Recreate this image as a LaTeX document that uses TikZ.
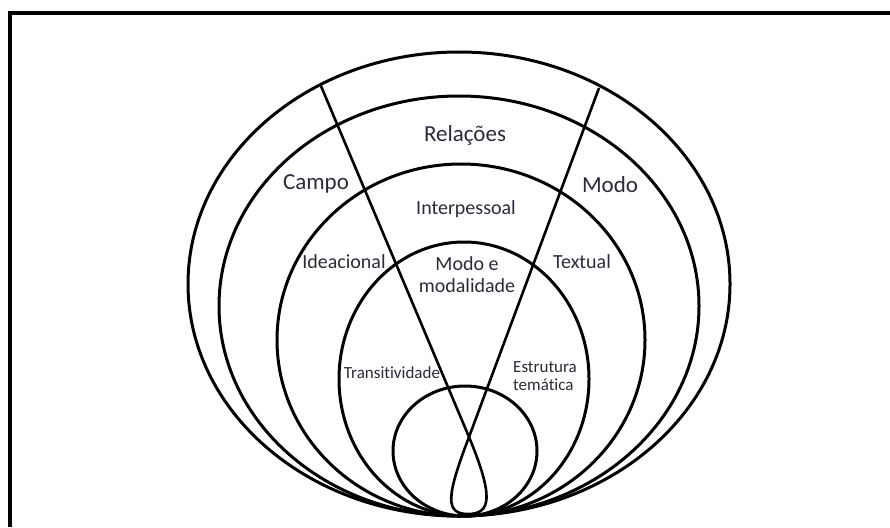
\documentclass[tikz,border=0pt]{standalone}
\usepackage{fontspec}
\setmainfont{Carlito}[Ligatures=NoCommon]
\definecolor{txt}{rgb}{0.17,0.17,0.22}
\tikzset{
  ring/.style={line width=3pt, draw=black},
  spoke/.style={line width=2.6pt, draw=black, line join=round},
  frameline/.style={line width=4pt, draw=black},
  bigl/.style={text=txt, font=\fontsize{23}{26}\selectfont, inner sep=0pt},
  midl/.style={text=txt, font=\fontsize{20}{22}\selectfont, inner sep=0pt},
  smalll/.style={text=txt, font=\fontsize{17}{18.5}\selectfont, inner sep=0pt},
}
\begin{document}
\begin{tikzpicture}[x=1pt, y=-1pt]
\useasboundingbox (0,0) rectangle (890,527);
% frame (top and left edges visible)
\coordinate (ftl) at (10,13);
\coordinate (ftr) at (890,13);
\coordinate (fbl) at (10,527);
\draw[frameline] (ftr) -- (ftl) -- (fbl);
% nested ellipses tangent at bottom
\draw[ring] (459,284) ellipse [x radius=271, y radius=232];
\draw[ring] (459,306) ellipse [x radius=240, y radius=210];
\draw[ring] (461,340) ellipse [x radius=184, y radius=176];
\draw[ring] (464,379) ellipse [x radius=125, y radius=137];
\draw[ring] (465,451) ellipse [x radius=72, y radius=65];
% crossing lines with loop at bottom
\coordinate (lt) at (321,86);
\coordinate (rt) at (599,88);
\coordinate (cx) at (469,437);
\coordinate (lb) at (468,514);
\draw[spoke] (lt) -- (cx) .. controls (494,497) and (491,514) .. (lb)
  .. controls (445,514) and (446,497) .. (cx) -- (rt);
% labels
\node[bigl] (rel) at (465,135) {Relações};
\node[bigl] (campo) at (316,184) {Campo};
\node[bigl] (modo) at (610,185) {Modo};
\node[midl] (inter) at (466,209) {Interpessoal};
\node[midl] (idea) at (344,262) {Ideacional};
\node[midl] (text) at (582,262) {Textual};
\node[midl, align=center] (mm) at (467,275) {Modo e\\modalidade};
\node[smalll] (trans) at (392,373) {Transitividade};
\node[smalll, align=left, anchor=west] (estr) at (513,376) {Estrutura\\temática};
\end{tikzpicture}
\end{document}
